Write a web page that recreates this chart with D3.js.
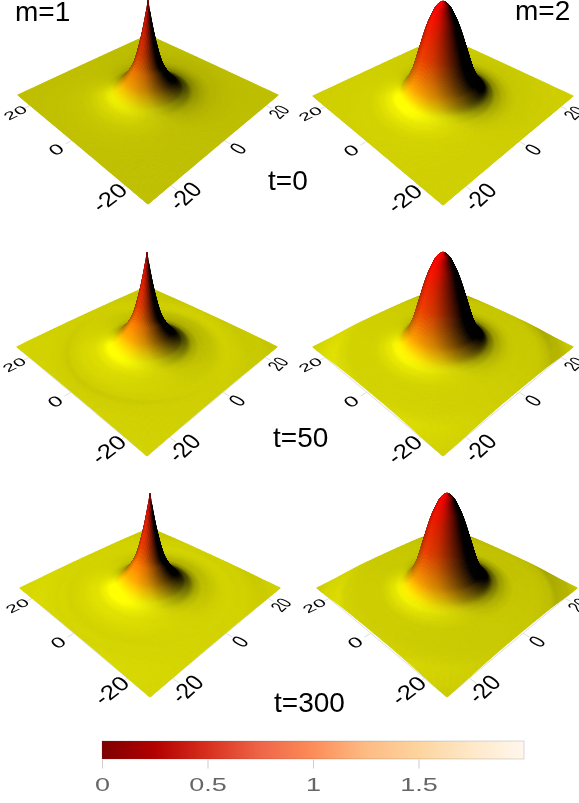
<!DOCTYPE html>
<html>
<head>
<meta charset="utf-8">
<script src="https://cdn.jsdelivr.net/npm/d3@7"></script>
<style>
  html, body { margin: 0; padding: 0; background: #fff; overflow: hidden; }
  #chart { position: relative; width: 579px; height: 803px; }
  #chart canvas, #chart svg { position: absolute; left: 0; top: 0; }
</style>
</head>
<body>
<div id="chart"></div>
<script>
// radial profile knots (distance from the centre of the grid)
var radii = [0, 0.5, 1, 1.5, 2, 3, 4, 5, 6, 7, 8, 9, 10, 12, 14, 16, 18, 20, 22, 24, 26, 28, 30, 32, 34, 36, 39];

// heights, as a fraction of the tallest point
var m1t0 = [1, .89, .79, .70, .62, .48, .37, .30, .24, .19, .15, .117, .09, .052, .032, .020, .013, .009, .0062, .0042, .0028, .0018, .001, .0005, .0002, 0, 0];
var m2t0 = [1, .995, .98, .965, .94, .87, .79, .69, .58, .47, .36, .27, .20, .10, .05, .027, .015, .009, .0062, .0042, .0028, .0018, .001, .0005, .0002, 0, 0];
var m1t50 = [1, .89, .79, .70, .62, .48, .37, .30, .24, .19, .15, .117, .09, .052, .034, .025, .019, .015, .014, .015, .015, .014, .012, .010, .008, .005, 0];
var m2t50 = [1, .995, .98, .965, .94, .87, .79, .69, .58, .47, .36, .27, .20, .115, .075, .057, .048, .044, .042, .040, .038, .035, .029, .019, .01, .004, 0];
var m1t300 = [1, .89, .79, .70, .62, .48, .37, .30, .24, .19, .15, .117, .09, .052, .033, .024, .018, .015, .014, .014, .013, .012, .010, .007, .004, .002, 0];
var m2t300 = [1, .995, .98, .965, .94, .87, .79, .69, .58, .47, .36, .27, .20, .115, .075, .056, .047, .044, .042, .040, .038, .035, .030, .020, .011, .004, 0];

var axisTicks = [20, 0, -20];
var colorbarTicks = [0, 0.5, 1, 1.5];
var colorbarColors = ["#7f0000", "#b30000", "#d7301f", "#ef6548", "#fc8d59", "#fdbb84", "#fdd49e", "#fee8c8", "#fff7ec"];

var surfaceHeights = [0, 0.15, 0.4, 1, 1.95];
var surfaceColors = ["#ffff00", "#ffff00", "#ffaa00", "#ff4600", "#ff0000"];

// where each panel sits on the page
var panels = [
  { profile: m1t0, cx: 148, cy: 95, flat: .75 },
  { profile: m2t0, cx: 443, cy: 96, flat: .81 },
  { profile: m1t50, cx: 147, cy: 347, flat: .81 },
  { profile: m2t50, cx: 443, cy: 347, flat: .81 },
  { profile: m1t300, cx: 150, cy: 588, flat: .83 },
  { profile: m2t300, cx: 447, cy: 588, flat: .79 }
];
var labels = [
  { text: "m=1", x: 15, y: 21 },
  { text: "m=2", x: 515, y: 20 },
  { text: "t=0", x: 268, y: 190 },
  { text: "t=50", x: 273, y: 447 },
  { text: "t=300", x: 274, y: 712 }
];

var width = 579, height = 803;
var gridSize = 150;
var halfRange = 27;

var xScale = d3.scaleLinear().domain([-halfRange, halfRange]).range([-1, 1]);
var zScale = d3.scaleLinear().domain([0, 1.95]).range([0, 1.07]);
var surfaceColor = d3.scaleLinear().domain(surfaceHeights).range(surfaceColors).clamp(true);

// camera, fitted to the corners of the floor
var elevation = 36.5 * Math.PI / 180;
var cameraDist = 3.92, focal = 361;
var sinE = Math.sin(elevation), cosE = Math.cos(elevation);

function project(p, x, y, z) {
  var u = (x - y) / Math.SQRT2, d = (x + y) / Math.SQRT2;
  var s = focal / (cameraDist + d * cosE - z * sinE);
  return [p.cx + u * s, p.cy - (d * sinE + z * cosE) * s];
}

// hermite curve through the profile knots
function heightAt(profile, r) {
  var n = radii.length;
  if (r >= radii[n - 1]) return 0;
  var k = Math.min(d3.bisectRight(radii, r) - 1, n - 2);
  var h = radii[k + 1] - radii[k], t = (r - radii[k]) / h;
  function slope(i) {
    var a = Math.max(i - 1, 0), b = Math.min(i + 1, n - 1);
    return (profile[b] - profile[a]) / (radii[b] - radii[a]);
  }
  var t2 = t * t, t3 = t2 * t;
  return (2 * t3 - 3 * t2 + 1) * profile[k] + (t3 - 2 * t2 + t) * h * slope(k)
    + (-2 * t3 + 3 * t2) * profile[k + 1] + (t3 - t2) * h * slope(k + 1);
}

// light comes from the front left
var lightU = -0.62, lightD = -0.32, lightZ = 0.716;
var lightX = (lightU + lightD) / Math.SQRT2, lightY = (lightD - lightU) / Math.SQRT2;
// direction to the viewer, used to darken the silhouette of the peaks
var viewX = -cosE / Math.SQRT2, viewY = -cosE / Math.SQRT2, viewZ = sinE;

var canvas = d3.select("#chart").append("canvas")
  .attr("width", width).attr("height", height)
  .style("filter", "blur(0.35px)");
var ctx = canvas.node().getContext("2d");

var svg = d3.select("#chart").append("svg")
  .attr("width", width).attr("height", height)
  .style("font-family", "'Liberation Sans', Arial, sans-serif");

function drawFloorLines(p) {
  ctx.strokeStyle = "#dddddd";
  ctx.lineWidth = 1;
  axisTicks.forEach(function(t) {
    var v = xScale(t);
    [[[-1, v], [-1.07, v]], [[v, -1], [v, -1.07]]].forEach(function(seg) {
      var a = project(p, seg[0][0], seg[0][1], 0), b = project(p, seg[1][0], seg[1][1], 0);
      ctx.beginPath(); ctx.moveTo(a[0], a[1]); ctx.lineTo(b[0], b[1]); ctx.stroke();
    });
  });
  var l = project(p, -1, 1, 0), m = project(p, -1, -1, 0), r = project(p, 1, -1, 0);
  ctx.beginPath(); ctx.moveTo(l[0], l[1]); ctx.lineTo(m[0], m[1]); ctx.lineTo(r[0], r[1]); ctx.stroke();
}

function drawSurface(p) {
  var n = gridSize, step = 2 * halfRange / n;
  var zs = [], i, j;
  for (i = 0; i <= n; i++) {
    zs.push([]);
    for (j = 0; j <= n; j++) {
      var dx = -halfRange + i * step, dy = -halfRange + j * step;
      zs[i].push(heightAt(p.profile, Math.sqrt(dx * dx + dy * dy)) * 1.95);
    }
  }
  var gain = p.flat / lightZ;
  var cellNorm = 2 / n;
  for (i = n - 1; i >= 0; i--) {
    for (j = n - 1; j >= 0; j--) {
      var z00 = zs[i][j], z10 = zs[i + 1][j], z01 = zs[i][j + 1], z11 = zs[i + 1][j + 1];
      var gx = (zScale(z10 + z11) - zScale(z00 + z01)) / (2 * cellNorm);
      var gy = (zScale(z01 + z11) - zScale(z00 + z10)) / (2 * cellNorm);
      var len = Math.sqrt(gx * gx + gy * gy + 1);
      var lit = Math.max(0, (-gx * lightX - gy * lightY + lightZ) / len) * gain;
      // highlights roll off so the bright spot does not clip too early
      if (lit > p.flat) lit = p.flat + (lit - p.flat) * 0.7;
      var facing = Math.max(0, (-gx * viewX - gy * viewY + viewZ) / len);
      lit *= 1 - 0.35 * (1 - Math.min(1, facing / sinE));
      var c = d3.rgb(surfaceColor((z00 + z10 + z01 + z11) / 4));
      var fill = "rgb(" + Math.min(255, c.r * lit) + "," + Math.min(255, c.g * lit) + "," + Math.min(255, c.b * lit) + ")";
      var x0 = xScale(-halfRange + i * step), x1 = xScale(-halfRange + (i + 1) * step);
      var y0 = xScale(-halfRange + j * step), y1 = xScale(-halfRange + (j + 1) * step);
      var a = project(p, x0, y0, zScale(z00)), b = project(p, x1, y0, zScale(z10));
      var d = project(p, x1, y1, zScale(z11)), e = project(p, x0, y1, zScale(z01));
      ctx.fillStyle = fill;
      ctx.strokeStyle = fill;
      ctx.lineWidth = 0.9;
      ctx.beginPath();
      ctx.moveTo(a[0], a[1]); ctx.lineTo(b[0], b[1]); ctx.lineTo(d[0], d[1]); ctx.lineTo(e[0], e[1]);
      ctx.closePath();
      ctx.fill();
      ctx.stroke();
    }
  }
}

// tick labels lie flat on the floor, so each gets the local floor matrix
function drawTickLabels(p) {
  var em = 0.2, size = 10, eps = 0.02;
  var spots = [];
  axisTicks.forEach(function(t) {
    spots.push({ t: t, x: -1.17, y: xScale(t) });
    spots.push({ t: t, x: xScale(t), y: -1.15 });
  });
  svg.append("g").selectAll("text")
    .data(spots)
    .enter().append("text")
      .attr("text-anchor", "middle")
      .attr("dy", "0.35em")
      .attr("font-size", size)
      .attr("fill", "#000")
      .attr("transform", function(s) {
        var o = project(p, s.x, s.y, 0);
        var a = project(p, s.x + eps, s.y, 0), b = project(p, s.x, s.y + eps, 0);
        var k = em / size / eps;
        return "matrix(" + [(a[0] - o[0]) * k, (a[1] - o[1]) * k, -(b[0] - o[0]) * k, -(b[1] - o[1]) * k, o[0], o[1]].join(",") + ")";
      })
      .text(function(s) { return s.t; });
}

panels.forEach(function(p) {
  drawFloorLines(p);
  drawSurface(p);
  drawTickLabels(p);
});

svg.append("g").selectAll("text")
  .data(labels)
  .enter().append("text")
    .attr("x", function(d) { return d.x; })
    .attr("y", function(d) { return d.y; })
    .attr("font-size", 28)
    .attr("fill", "#000")
    .text(function(d) { return d.text; });

// colorbar
var barX = d3.scaleLinear().domain([0, 2]).range([102, 524]);
var grad = svg.append("defs").append("linearGradient").attr("id", "bar");
grad.selectAll("stop")
  .data(colorbarColors)
  .enter().append("stop")
    .attr("offset", function(d, i) { return i / (colorbarColors.length - 1); })
    .attr("stop-color", function(d) { return d; });

svg.append("rect")
  .attr("x", barX(0)).attr("y", 741)
  .attr("width", barX(2) - barX(0)).attr("height", 18)
  .attr("fill", "url(#bar)")
  .attr("stroke", "#444").attr("stroke-opacity", 0.2);

var barAxis = d3.axisBottom(barX)
  .tickValues(colorbarTicks)
  .tickFormat(function(d) { return d; })
  .tickSize(9).tickPadding(0);

var axisG = svg.append("g").attr("transform", "translate(0,759.5)").call(barAxis);
axisG.select(".domain").remove();
axisG.selectAll("line").attr("stroke", "#ccc");
axisG.selectAll("text")
  .attr("font-family", "'Liberation Sans', Arial, sans-serif")
  .attr("font-size", 18)
  .attr("fill", "#666")
  .attr("dy", 0)
  .attr("y", 32)
  .attr("transform", "scale(1.5,1)");
</script>
</body>
</html>
